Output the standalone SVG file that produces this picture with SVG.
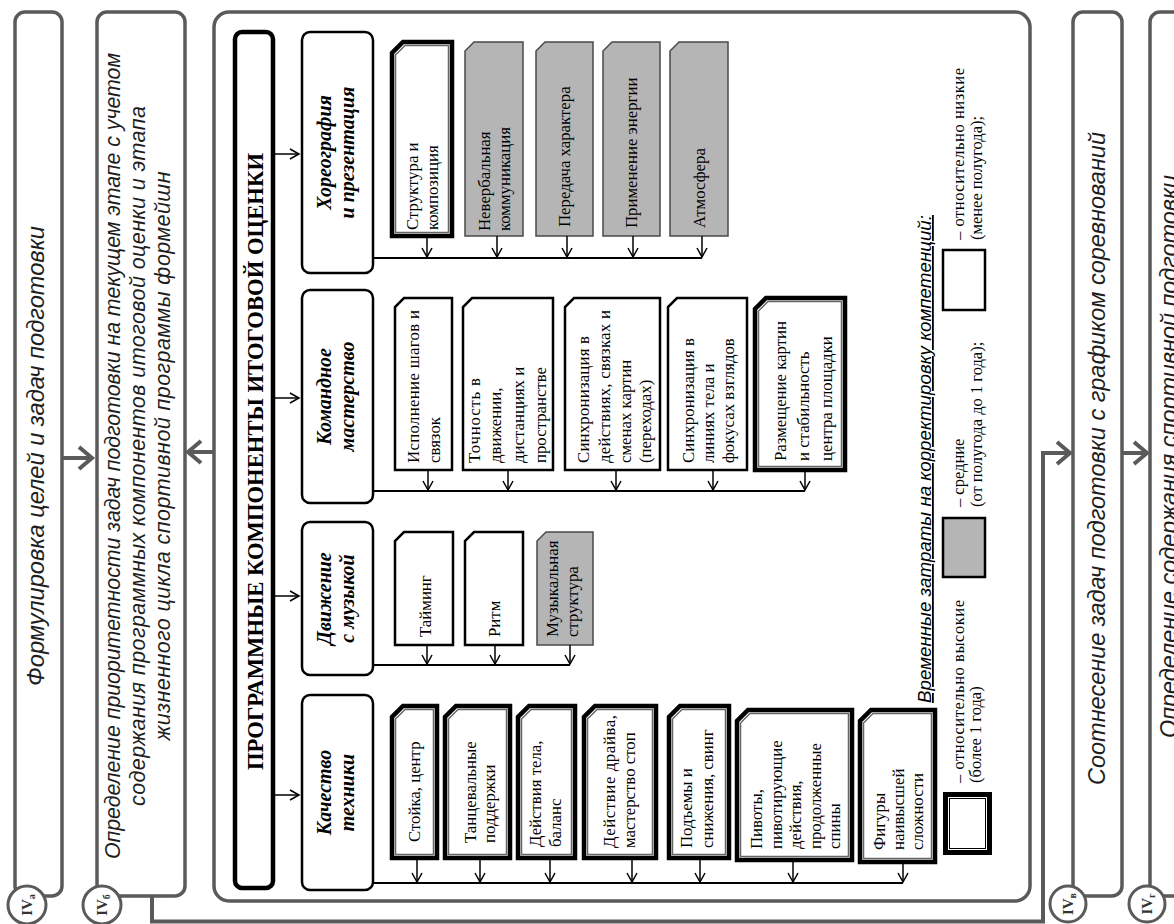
<svg xmlns="http://www.w3.org/2000/svg" width="1174" height="924" viewBox="0 0 1174 924">
<style>
.big{fill:#fff;stroke:#5a5a5a;stroke-width:3.5}
.cn{fill:none;stroke:#5a5a5a;stroke-width:4}
.ttl{fill:#fff;stroke:#000;stroke-width:4.5}
.cat{fill:#fff;stroke:#000;stroke-width:2.5}
.lo{fill:#fff;stroke:#000;stroke-width:2.5}
.md{fill:#b5b5b5;stroke:#4a4a4a;stroke-width:1.5}
.hi{fill:#fff;stroke:#000;stroke-width:4.5}
.hin{fill:none;stroke:#666;stroke-width:1.5}
.bus{fill:none;stroke:#000;stroke-width:2}
.ar{fill:none;stroke:#000;stroke-width:1.5;marker-end:url(#ah)}
.ga{fill:none;stroke:#5a5a5a;stroke-width:4;marker-end:url(#gh)}
.ot{font-family:"Liberation Sans",Arial,sans-serif;font-style:italic;font-size:23px;fill:#1e1e1e}
.ob{font-family:"Liberation Sans",Arial,sans-serif;font-style:italic;font-size:21.5px;fill:#1e1e1e}
.tt{font-family:"Liberation Serif","Times New Roman",serif;font-weight:bold;font-size:24px;text-anchor:middle}
.ct{font-family:"Liberation Serif","Times New Roman",serif;font-weight:bold;font-style:italic;font-size:20px;text-anchor:middle}
.st{font-family:"Liberation Serif","Times New Roman",serif;font-size:16.8px}
.lg{font-family:"Liberation Serif","Times New Roman",serif;font-size:16.5px}
.lt{font-family:"Liberation Sans",Arial,sans-serif;font-style:italic;font-size:18px;text-decoration:underline}
.cir{fill:#fff;stroke:#5a5a5a;stroke-width:3}
.ci{font-family:"Liberation Serif","Times New Roman",serif;font-weight:bold;font-size:15px;text-anchor:middle;fill:#333}
</style>
<defs>
<marker id="ah" markerUnits="userSpaceOnUse" markerWidth="12" markerHeight="12" refX="9" refY="5" orient="auto" overflow="visible">
<path d="M0,0 L9,5 L0,10" fill="none" stroke="#000" stroke-width="1.5"/>
</marker>
<marker id="gh" markerUnits="userSpaceOnUse" markerWidth="20" markerHeight="26" refX="13" refY="11" orient="auto" overflow="visible">
<path d="M0,0 L13,11 L0,22" fill="none" stroke="#5a5a5a" stroke-width="4"/>
</marker>
</defs>
<g transform="matrix(0,-1,1,0,0,924)">
<g id="iva">
<rect class="big" x="28" y="15" width="884" height="47" rx="10"/>
<text class="ot" x="468" y="44" text-anchor="middle" textLength="460" lengthAdjust="spacingAndGlyphs">Формулировка целей и задач подготовки</text>
</g>
<g id="ivb">
<rect class="big" x="28" y="97" width="884" height="88" rx="10"/>
<text class="ob" x="468" y="120" text-anchor="middle" textLength="806" lengthAdjust="spacingAndGlyphs">Определение приоритетности задач подготовки на текущем этапе с учетом</text>
<text class="ob" x="468" y="145" text-anchor="middle" textLength="700" lengthAdjust="spacing">содержания программных компонентов итоговой оценки и этапа</text>
<text class="ob" x="468" y="170" text-anchor="middle" textLength="569" lengthAdjust="spacing">жизненного цикла спортивной программы формейшн</text>
</g>
<g id="main">
<rect class="big" x="23" y="214" width="889" height="816" rx="15"/>
</g>
<g id="ivv">
<rect class="big" x="28" y="1073" width="884" height="49" rx="10"/>
<text class="ot" x="465.5" y="1105" text-anchor="middle" textLength="653" lengthAdjust="spacingAndGlyphs">Соотнесение задач подготовки с графиком соревнований</text>
</g>
<g id="ivg">
<rect class="big" x="28" y="1150" width="884" height="49" rx="10"/>
<text class="ot" x="467.5" y="1177" text-anchor="middle" textLength="563" lengthAdjust="spacingAndGlyphs">Определение содержания спортивной подготовки</text>
</g>

<g id="title">
<rect class="ttl" x="36" y="235" width="856" height="38" rx="7"/>
<text class="tt" x="462.5" y="263" textLength="617" lengthAdjust="spacingAndGlyphs">ПРОГРАММНЫЕ КОМПОНЕНТЫ ИТОГОВОЙ ОЦЕНКИ</text>
</g>

<g id="cat-choreo">
<rect class="cat" x="651" y="302" width="241" height="71" rx="8"/>
<text class="ct" x="771.5" y="331">Хореография</text>
<text class="ct" x="771.5" y="354">и презентация</text>
</g>
<g id="cat-team">
<rect class="cat" x="421" y="302" width="213" height="71" rx="8"/>
<text class="ct" x="527.5" y="331">Командное</text>
<text class="ct" x="527.5" y="354">мастерство</text>
</g>
<g id="cat-music">
<rect class="cat" x="249" y="302" width="153" height="71" rx="8"/>
<text class="ct" x="325.5" y="331">Движение</text>
<text class="ct" x="325.5" y="354">с музыкой</text>
</g>
<g id="cat-tech">
<rect class="cat" x="34" y="302" width="195" height="71" rx="8"/>
<text class="ct" x="131.5" y="331">Качество</text>
<text class="ct" x="131.5" y="354">техники</text>
</g>

<g id="c1"><path class="hi" d="M688,392H871L882,403V452H688Z"/><path class="hin" d="M691.5,395.5H869L878.5,405V448.5H691.5Z"/>
<text class="st" x="694" y="418">Структура и</text><text class="st" x="694" y="438">композиция</text></g>
<g id="c2"><path class="md" d="M688,465H873L882,474V523H688Z"/>
<text class="st" x="693" y="490">Невербальная</text><text class="st" x="693" y="510">коммуникация</text></g>
<g id="c3"><path class="md" d="M688,536H873L882,545V593H688Z"/>
<text class="st" x="697" y="570">Передача характера</text></g>
<g id="c4"><path class="md" d="M688,603H873L882,612V660H688Z"/>
<text class="st" x="696" y="637">Применение энергии</text></g>
<g id="c5"><path class="md" d="M688,670H873L882,679V728H688Z"/>
<text class="st" x="696" y="705">Атмосфера</text></g>

<g id="t1"><path class="lo" d="M454,395H617L626,404V452H454Z"/>
<text class="st" x="461" y="419" textLength="153" lengthAdjust="spacing">Исполнение шагов и</text><text class="st" x="461" y="440">связок</text></g>
<g id="t2"><path class="lo" d="M454,463H617L626,472V553H454Z"/>
<text class="st" x="461" y="480" textLength="85" lengthAdjust="spacing">Точность в</text><text class="st" x="461" y="501">движении,</text><text class="st" x="461" y="524">дистанциях и</text><text class="st" x="461" y="546">пространстве</text></g>
<g id="t3"><path class="lo" d="M454,565H617L626,574V660H454Z"/>
<text class="st" x="461" y="589" textLength="127" lengthAdjust="spacing">Синхронизация в</text><text class="st" x="461" y="610" textLength="153" lengthAdjust="spacing">действиях, связках и</text><text class="st" x="461" y="631">сменах картин</text><text class="st" x="461" y="651">(переходах)</text></g>
<g id="t4"><path class="lo" d="M454,668H617L626,677V747H454Z"/>
<text class="st" x="461" y="694" textLength="125" lengthAdjust="spacing">Синхронизация в</text><text class="st" x="461" y="714">линиях тела и</text><text class="st" x="461" y="734">фокусах взглядов</text></g>
<g id="t5"><path class="hi" d="M454,755H615L626,766V845H454Z"/><path class="hin" d="M457.5,758.5H613L622.5,768V841.5H457.5Z"/>
<text class="st" x="463" y="786">Размещение картин</text><text class="st" x="463" y="809">и стабильность</text><text class="st" x="463" y="832">центра площадки</text></g>

<g id="m1"><path class="lo" d="M279,395H383L392,404V453H279Z"/>
<text class="st" x="287" y="431">Тайминг</text></g>
<g id="m2"><path class="lo" d="M279,465H383L392,474V523H279Z"/>
<text class="st" x="287" y="500">Ритм</text></g>
<g id="m3"><path class="md" d="M279,537H383L392,546V593H279Z"/>
<text class="st" x="287" y="558">Музыкальная</text><text class="st" x="287" y="578">структура</text></g>

<g id="k1"><path class="hi" d="M66,392H207L218,403V437H66Z"/><path class="hin" d="M69.5,395.5H205L214.5,405V433.5H69.5Z"/>
<text class="st" x="82" y="420">Стойка, центр</text></g>
<g id="k2"><path class="hi" d="M66,445H207L218,456V510H66Z"/><path class="hin" d="M69.5,448.5H205L214.5,458V506.5H69.5Z"/>
<text class="st" x="81" y="476">Танцевальные</text><text class="st" x="81" y="495">поддержки</text></g>
<g id="k3"><path class="hi" d="M66,518H207L218,529V575H66Z"/><path class="hin" d="M69.5,521.5H205L214.5,531V571.5H69.5Z"/>
<text class="st" x="77" y="541">Действия тела,</text><text class="st" x="77" y="561">баланс</text></g>
<g id="k4"><path class="hi" d="M66,584H207L218,595V656H66Z"/><path class="hin" d="M69.5,587.5H205L214.5,597V652.5H69.5Z"/>
<text class="st" x="76" y="615" textLength="133" lengthAdjust="spacing">Действие драйва,</text><text class="st" x="76" y="635">мастерство стоп</text></g>
<g id="k5"><path class="hi" d="M66,669H207L218,680V729H66Z"/><path class="hin" d="M69.5,672.5H205L214.5,682V725.5H69.5Z"/>
<text class="st" x="76" y="692">Подъемы и</text><text class="st" x="76" y="713">снижения, свинг</text></g>
<g id="k6"><path class="hi" d="M64,737H203L214,748V852H64Z"/><path class="hin" d="M67.5,740.5H201L210.5,750V848.5H67.5Z"/>
<text class="st" x="75" y="762">Пивоты,</text><text class="st" x="75" y="782">пивотирующие</text><text class="st" x="75" y="801">действия,</text><text class="st" x="75" y="821">продолженные</text><text class="st" x="75" y="840">спины</text></g>
<g id="k7"><path class="hi" d="M62,860H203L214,871V935H62Z"/><path class="hin" d="M65.5,863.5H201L210.5,873V931.5H65.5Z"/>
<text class="st" x="74" y="885">Фигуры</text><text class="st" x="74" y="904">наивысшей</text><text class="st" x="74" y="923">сложности</text></g>

<g id="legend">
<text class="lt" x="221" y="931" textLength="488" lengthAdjust="spacingAndGlyphs">Временные затраты на корректировку компетенций:</text>
<rect x="71.5" y="945.5" width="58" height="44" fill="#fff" stroke="#000" stroke-width="5"/>
<rect x="75.5" y="949.5" width="50" height="36" fill="none" stroke="#000" stroke-width="1"/>
<text class="lg" x="141" y="964" textLength="183" lengthAdjust="spacing">– относительно высокие</text>
<text class="lg" x="141" y="981">(более 1 года)</text>
<rect x="347" y="943" width="59" height="42" fill="#b5b5b5" stroke="#000" stroke-width="2.5"/>
<text class="lg" x="417" y="964">– средние</text>
<text class="lg" x="417" y="982">(от полугода до 1 года);</text>
<rect x="614" y="943" width="60" height="42" fill="#fff" stroke="#000" stroke-width="2.5"/>
<text class="lg" x="684" y="964" textLength="172" lengthAdjust="spacing">– относительно низкие</text>
<text class="lg" x="684" y="982">(менее полугода);</text>
</g>

<g id="connectors">
<path class="ar" d="M770,273V299"/>
<path class="ar" d="M526,273V299"/>
<path class="ar" d="M328,273V299"/>
<path class="ar" d="M129,273V299"/>
<path class="bus" d="M666,373V702"/>
<path class="ar" d="M688,427H667"/><path class="ar" d="M688,497H667"/><path class="ar" d="M688,567H667"/><path class="ar" d="M688,633H667"/><path class="ar" d="M688,702H667"/>
<path class="bus" d="M433,373V805"/>
<path class="ar" d="M454,428H434"/><path class="ar" d="M454,508H434"/><path class="ar" d="M454,616H434"/><path class="ar" d="M454,713H434"/><path class="ar" d="M454,805H434"/>
<path class="bus" d="M259,373V570"/>
<path class="ar" d="M279,427H260"/><path class="ar" d="M279,495H260"/><path class="ar" d="M279,570H260"/>
<path class="bus" d="M41,373V903"/>
<path class="ar" d="M66,417H42"/><path class="ar" d="M66,480H42"/><path class="ar" d="M66,550H42"/><path class="ar" d="M66,632H42"/><path class="ar" d="M66,700H42"/><path class="ar" d="M64,793H42"/><path class="ar" d="M62,903H42"/>
<path class="ga" d="M466,62V92"/>
<path class="ga" d="M472,214V188"/>
<path class="ga" d="M28,152H2.5V1043H471V1070"/>
<path class="ga" d="M471,1122V1147"/>
</g>

<g id="circ-a"><circle class="cir" cx="19" cy="27" r="19"/><text class="ci" x="19" y="32">IV<tspan font-size="10" dy="3">а</tspan></text></g>
<g id="circ-b"><circle class="cir" cx="19" cy="102" r="19"/><text class="ci" x="19" y="107">IV<tspan font-size="10" dy="3">б</tspan></text></g>
<g id="circ-v"><circle class="cir" cx="20" cy="1068" r="18"/><text class="ci" x="20" y="1073">IV<tspan font-size="10" dy="3">в</tspan></text></g>
<g id="circ-g"><circle class="cir" cx="20" cy="1147" r="18"/><text class="ci" x="20" y="1152">IV<tspan font-size="10" dy="3">г</tspan></text></g>
</g>
</svg>
